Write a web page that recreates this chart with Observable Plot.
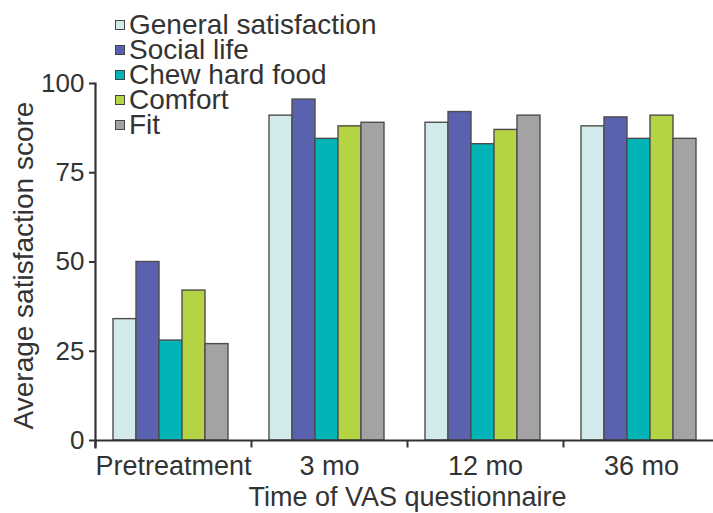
<!DOCTYPE html>
<html>
<head>
<meta charset="utf-8">
<script src="https://cdn.jsdelivr.net/npm/d3@7"></script>
<script src="https://cdn.jsdelivr.net/npm/@observablehq/plot@0.6"></script>
<style>
  html, body { margin: 0; padding: 0; background: #fff; }
  #wrap { position: relative; width: 713px; height: 513px; overflow: hidden; font-family: "Liberation Sans", Arial, Helvetica, sans-serif; color: #333; }
  #legend { position: absolute; left: 115px; top: 12px; }
  .item { display: flex; align-items: center; height: 25px; font-size: 28px; line-height: 25px; white-space: nowrap; }
  .sw { width: 8px; height: 8px; border: 1.5px solid #444; margin-right: 4px; flex: none; }
</style>
</head>
<body>
<div id="wrap"><div id="legend"></div></div>
<script>
const times = ["Pretreatment", "3 mo", "12 mo", "36 mo"];
const series = ["General satisfaction", "Social life", "Chew hard food", "Comfort", "Fit"];
const generalSatisfaction = [34, 91, 89, 88];
const socialLife = [50, 95.5, 92, 90.5];
const chewHardFood = [28, 84.5, 83, 84.5];
const comfort = [42, 88, 87, 91];
const fit = [27, 89, 91, 84.5];
const yTicks = [0, 25, 50, 75, 100];
const colors = ["#d2eaec", "#5a62b0", "#00b4b7", "#b5d444", "#a3a3a3"];

const seriesValues = [generalSatisfaction, socialLife, chewHardFood, comfort, fit];
const table = [];
times.forEach((t, i) => series.forEach((s, j) => table.push({time: t, series: s, value: seriesValues[j][i]})));

const tickSymbol = { draw(context) { context.moveTo(0, 0); context.lineTo(0, -7); } };

const chart = Plot.plot({
  width: 713,
  height: 513,
  marginTop: 83,
  marginBottom: 66,
  marginLeft: 94,
  marginRight: 0,
  style: { fontFamily: '"Liberation Sans", Arial, Helvetica, sans-serif', color: "#333", background: "white" },
  fx: { domain: times, range: [94, 720], padding: 0 },
  x: { domain: series, paddingInner: 0, paddingOuter: 0.76, align: 0.45, axis: null },
  y: { domain: [0, 100], range: [440, 83] },
  color: { domain: series, range: colors },
  marks: [
    Plot.barY(table, { fx: "time", x: "series", y: "value", fill: "series", stroke: "#4d4d4d", strokeWidth: 1.4 }),
    Plot.ruleY([0], { stroke: "#333", strokeWidth: 2.2 }),
    Plot.frame({ anchor: "left", facetAnchor: "left", stroke: "#333", strokeWidth: 2.2 }),
    Plot.dot(times, { fx: d => d, frameAnchor: "bottom-left", symbol: tickSymbol, fill: "none", stroke: "#333", strokeWidth: 2 }),
    Plot.axisY({ ticks: yTicks, tickSize: 6, tickPadding: 5, fontSize: 26, strokeWidth: 2, label: null }),
    Plot.axisY({ ticks: [], tickSize: 0, fontSize: 28,
      label: "Average satisfaction score", labelAnchor: "center", labelArrow: "none", labelOffset: 82 }),
    Plot.axisFx({ anchor: "bottom", tickSize: 0, tickPadding: 8, fontSize: 27,
      label: "Time of VAS questionnaire", labelAnchor: "center", labelArrow: "none", labelOffset: 58 })
  ]
});
document.getElementById("wrap").prepend(chart);

const legend = document.getElementById("legend");
series.forEach((s, j) => {
  const row = document.createElement("div");
  row.className = "item";
  const sw = document.createElement("span");
  sw.className = "sw";
  sw.style.background = colors[j];
  row.appendChild(sw);
  row.appendChild(document.createTextNode(s));
  legend.appendChild(row);
});
</script>
</body>
</html>
